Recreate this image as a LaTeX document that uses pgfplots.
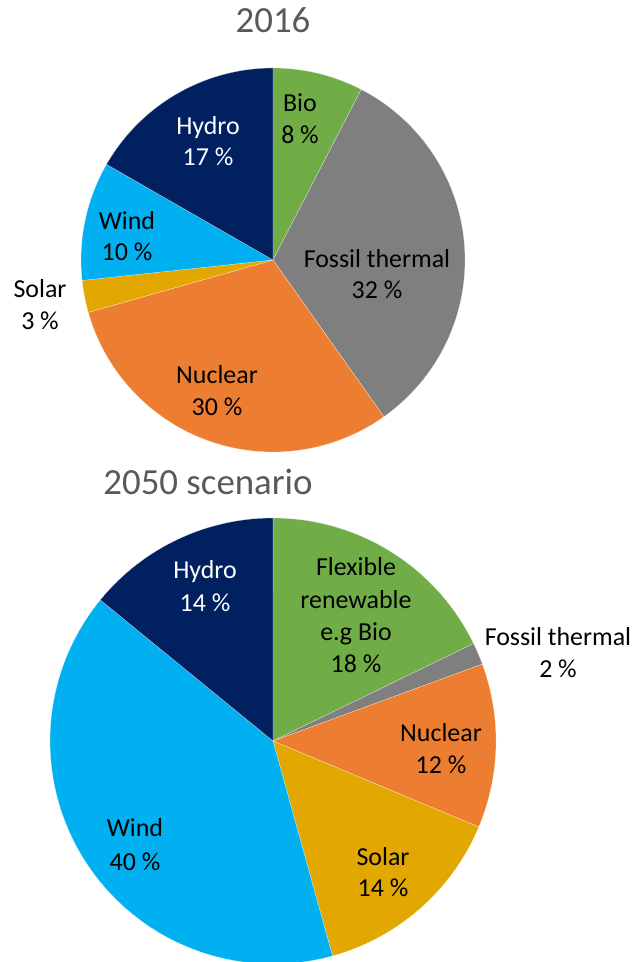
\documentclass[border=0pt]{standalone}
\usepackage{fontspec}
\setmainfont{Carlito}
\usepackage{pgfplots}
\pgfplotsset{compat=1.18}
\definecolor{cbio}{HTML}{70AD47}
\definecolor{cfos}{HTML}{7F7F7F}
\definecolor{cnuc}{HTML}{ED7D31}
\definecolor{csol}{HTML}{E2A700}
\definecolor{cwin}{HTML}{00B0F0}
\definecolor{chyd}{HTML}{002060}
\definecolor{ctitle}{HTML}{595959}
\def\acc{0}
% cx, cy, r, share (percent), colour
\newcommand\slice[5]{%
  \pgfmathsetmacro\endv{\acc+#4}%
  \edef\tmp{\noexpand\addplot[fill=#5,draw=white!85!#5,line width=0.2pt,line join=round,domain=\acc:\endv,samples=90,variable=\noexpand\t]
    ({#1+#3*sin(3.6*\noexpand\t)},{#2+#3*cos(3.6*\noexpand\t)}) -- (axis cs:#1,#2) -- cycle;}%
  \tmp
  \global\let\acc\endv}
\newcommand\lbl[4][black]{\node[anchor=base,inner sep=0pt,text=#1,font=\fontsize{26}{31}\selectfont] at (axis cs:#2,#3) {#4};}
\begin{document}
\begin{tikzpicture}
\useasboundingbox (0,0) rectangle (639bp,962bp);
\begin{axis}[
  at={(0,0)}, anchor=south west,
  width=639bp, height=962bp, scale only axis,
  xmin=0, xmax=639, ymin=-962, ymax=0,
  hide axis, clip=false]
% ---- 2016 ----
\gdef\acc{0}
\slice{273}{-260}{192}{7.6}{cbio}
\slice{273}{-260}{192}{32.6}{cfos}
\slice{273}{-260}{192}{30.4}{cnuc}
\slice{273}{-260}{192}{2.7}{csol}
\slice{273}{-260}{192}{10.0}{cwin}
\slice{273}{-260}{192}{16.7}{chyd}
% ---- 2050 ----
\gdef\acc{0}
\slice{273}{-741}{223}{17.8}{cbio}
\slice{273}{-741}{223}{1.6}{cfos}
\slice{273}{-741}{223}{11.9}{cnuc}
\slice{273}{-741}{223}{14.4}{csol}
\slice{273}{-741}{223}{40.2}{cwin}
\slice{273}{-741}{223}{14.1}{chyd}
% titles
\node[anchor=base,inner sep=0pt,text=ctitle,font=\fontsize{37}{44}\selectfont] at (axis cs:273,-33) {2016};
\node[anchor=base,inner sep=0pt,text=ctitle,font=\fontsize{37}{44}\selectfont] at (axis cs:208,-495) {2050 scenario};
% labels 2016
\lbl{300}{-111.5}{Bio}
\lbl{300}{-143.5}{8 \%}
\lbl[white]{208}{-134.5}{Hydro}
\lbl[white]{208}{-165.5}{17 \%}
\lbl{127}{-229.5}{Wind}
\lbl{127}{-260.5}{10 \%}
\lbl{377}{-267.5}{Fossil thermal}
\lbl{377}{-298.5}{32 \%}
\lbl{40}{-297.5}{Solar}
\lbl{40}{-329.5}{3 \%}
\lbl{217}{-383.5}{Nuclear}
\lbl{217}{-415.5}{30 \%}
% labels 2050
\lbl[white]{205}{-578.5}{Hydro}
\lbl[white]{205}{-611.5}{14 \%}
\lbl{356}{-575.5}{Flexible}
\lbl{356}{-608.5}{renewable}
\lbl{356}{-640.5}{e.g Bio}
\lbl{356}{-672.5}{18 \%}
\lbl{558}{-645.5}{Fossil thermal}
\lbl{558}{-677.5}{2 \%}
\lbl{441}{-741.5}{Nuclear}
\lbl{441}{-773.5}{12 \%}
\lbl{135}{-836.5}{Wind}
\lbl{135}{-870.5}{40 \%}
\lbl{383}{-865.5}{Solar}
\lbl{383}{-896.5}{14 \%}
\end{axis}
\end{tikzpicture}
\end{document}
